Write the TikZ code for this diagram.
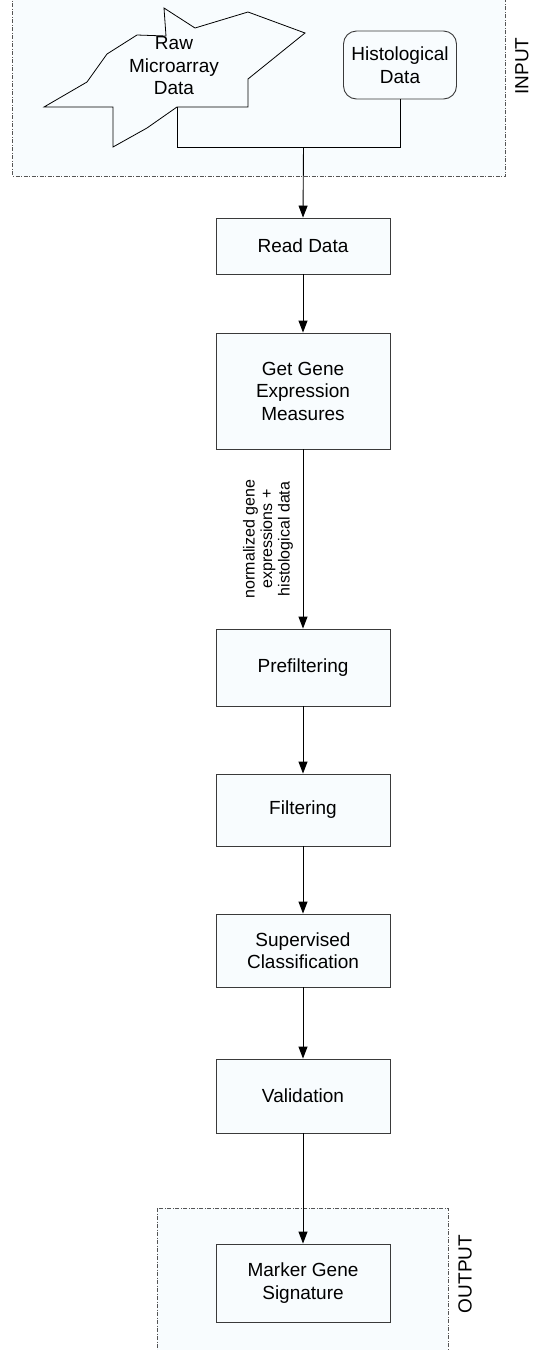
\documentclass[tikz,border=0pt]{standalone}
\usepackage{fontspec}
\setmainfont{Liberation Sans}
\usetikzlibrary{arrows.meta}
\definecolor{bgfill}{HTML}{F8FCFE}
\definecolor{boxline}{HTML}{3A3A3A}
\definecolor{dashline}{HTML}{555555}
\begin{document}
\begin{tikzpicture}[x=1pt,y=-1pt,
  bigfont/.style={font=\fontsize{19}{22.5}\selectfont},
  stepbox/.style={draw=boxline,line width=0.9pt,fill=bgfill,minimum width=174pt,inner sep=0pt,align=center,bigfont},
  container/.style={draw=dashline,line width=0.7pt,fill=bgfill,dash pattern=on 4pt off 1.5pt on 1pt off 1.5pt},
  conn/.style={draw=black,line width=0.9pt},
  arr/.style={conn,-{Triangle[length=12pt,width=9pt]}},
  sidelabel/.style={rotate=90,font=\fontsize{19}{22}\selectfont,inner sep=0pt}
]
\useasboundingbox (0,0) rectangle (535,1350);
% containers
\draw[container] (12.7,-5) rectangle (505.7,176);
\draw[container] (157,1208) rectangle (448,1360);
\node[sidelabel] (inlabel) at (522,66) {INPUT};
\node[sidelabel] (outlabel) at (465,1274) {OUTPUT};
% cloud shape (raw microarray data)
\draw[draw=black,line width=0.8pt,fill=bgfill]
  (164,8) -- (195,28) -- (248,12) -- (305,33) -- (248,79) -- (248,107)
  -- (177,107) -- (147,128) -- (113,147) -- (113,107) -- (44,107)
  -- (87,82) -- (107,54) -- (137,35) -- (166,36) -- cycle;
\node[align=center,bigfont,inner sep=0pt] (raw) at (174,66) {Raw\\Microarray\\Data};
\coordinate (rawout) at (177,107);
% histological
\node[draw=boxline,line width=0.9pt,fill=bgfill,rounded corners=13pt,minimum width=113pt,minimum height=68pt,inner sep=0pt,align=center,bigfont] (hist) at (400,65) {Histological\\Data};
% junction
\coordinate (j) at (303.5,147);
\draw[conn] (rawout) |- (j);
\draw[conn] (hist.south) |- (j);
% steps
\node[stepbox,minimum height=56pt] (read) at (303,246) {Read Data};
\node[stepbox,minimum height=116pt] (gene) at (303,391) {Get Gene\\Expression\\Measures};
\node[stepbox,minimum height=77pt] (pref) at (303,667.5) {Prefiltering};
\node[stepbox,minimum height=72pt] (filt) at (303,810) {Filtering};
\node[stepbox,minimum height=73pt] (sup) at (303,950.5) {Supervised\\Classification};
\node[stepbox,minimum height=74pt] (val) at (303,1096) {Validation};
\node[stepbox,minimum height=78pt] (mark) at (303,1283) {Marker Gene\\Signature};
% arrows
\draw[arr] (j) -- (read.north);
\draw[arr] (read) -- (gene);
\draw[arr] (gene) -- (pref) node[midway,rotate=90,align=center,inner sep=0pt,font=\fontsize{16}{17.5}\selectfont,xshift=0pt,yshift=35pt] (lbl) {normalized gene\\expressions +\\histological data};
\draw[arr] (pref) -- (filt);
\draw[arr] (filt) -- (sup);
\draw[arr] (sup) -- (val);
\draw[arr] (val) -- (mark);
\end{tikzpicture}
\end{document}
